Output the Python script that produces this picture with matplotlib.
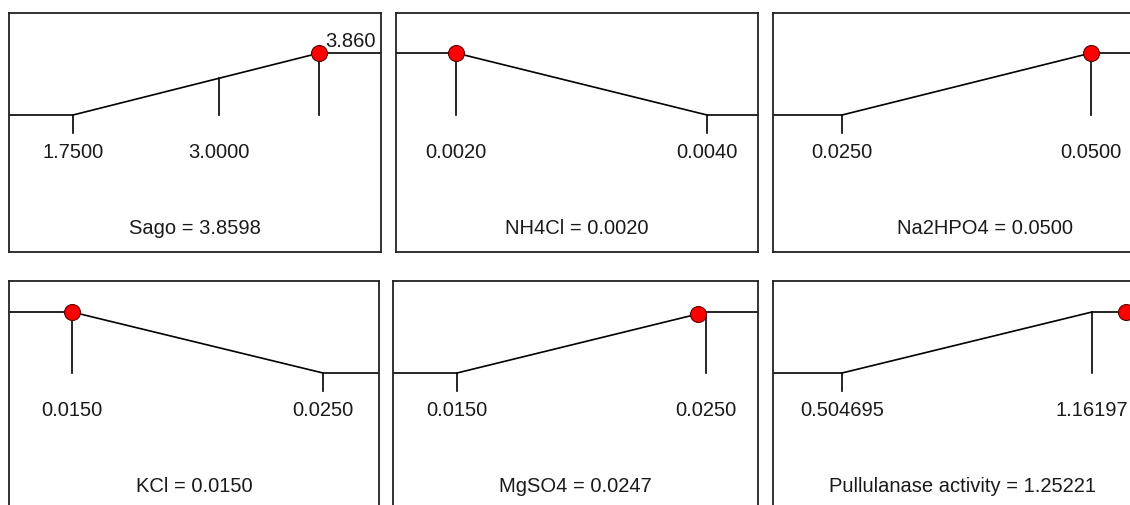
import numpy as np
import matplotlib.pyplot as plt

plt.rcParams['font.family'] = ['Liberation Sans', 'DejaVu Sans']

# factor / response names and the optimum values
names = ["Sago", "NH4Cl", "Na2HPO4", "KCl", "MgSO4", "Pullulanase activity"]
current = [3.8598, 0.0020, 0.0500, 0.0150, 0.0247, 1.25221]
current_text = ["3.8598", "0.0020", "0.0500", "0.0150", "0.0247", "1.25221"]

# ramp ends (low end, high end) and whether desirability rises left->right
ramp_lo = [1.75, 0.002, 0.025, 0.015, 0.015, 0.504695]
ramp_hi = [3.86, 0.004, 0.050, 0.025, 0.025, 1.16197]
rising = [True, False, True, False, True, True]

# ticks drawn under the ramp and their labels
tick_values = [[1.75, 3.0, 3.86], [0.002, 0.004], [0.025, 0.05],
               [0.015, 0.025], [0.015, 0.025], [0.504695, 1.16197]]
tick_labels = [["1.7500", "3.0000", ""], ["0.0020", "0.0040"], ["0.0250", "0.0500"],
               ["0.0150", "0.0250"], ["0.0150", "0.0250"], ["0.504695", "1.16197"]]
top_label = ["3.860", "", "", "", "", ""]

# x limits of each panel (data units)
xlims = [(1.202, 4.387), (0.001522, 0.004406), (0.01807, 0.05542),
         (0.01249, 0.02723), (0.01243, 0.02709), (0.3233, 1.3013)]

# layout in pixels: left, top, right, bottom of each box, and y pixel of levels 1 / 0
W, H = 1130, 505
boxes = [(9, 13, 381, 252), (396, 13, 758, 252), (773, 13, 1145, 252),
         (9, 281, 379, 512), (393, 281, 758, 512), (773, 281, 1145, 512)]
level_px = [(53, 115)] * 3 + [(312, 373)] * 3
label_x = [0.5, 0.5, 0.57, 0.5, 0.5, 0.51]

fig = plt.figure(figsize=(11.3, 5.05), dpi=100)
PT = 72 / 100.0  # points per pixel
fs = 14.5
txt_col = '#1a1a1a'

for i in range(6):
    l, t, r, b = boxes[i]
    ax = fig.add_axes([l / W, 1 - b / H, (r - l) / W, (b - t) / H])
    y1, y0 = level_px[i]
    unit = y0 - y1
    ax.set_ylim(-(b - y0) / unit, 1 + (y1 - t) / unit)
    ax.set_xlim(*xlims[i])
    ax.set_xticks([])
    ax.set_yticks([])
    for s in ax.spines.values():
        s.set_linewidth(1.3)
        s.set_color('#222222')

    xa, xb = xlims[i]
    rx = [xa, ramp_lo[i], ramp_hi[i], xb]
    ry = [0, 0, 1, 1] if rising[i] else [1, 1, 0, 0]
    ax.plot(rx, ry, color='black', lw=1.2, solid_joinstyle='miter')

    for tv, tl in zip(tick_values[i], tick_labels[i]):
        yl = np.interp(tv, rx, ry)
        ybot = 0 if yl > 0.05 else -18 / unit
        ax.plot([tv, tv], [yl, ybot], color='black', lw=1.2)
        if tl:
            ax.annotate(tl, (tv, 0), xytext=(0, -43 * PT), textcoords='offset points',
                        ha='center', va='baseline', fontsize=fs, color=txt_col)

    if top_label[i]:
        ax.annotate(top_label[i], (ramp_hi[i], 1), xytext=(6 * PT, 6 * PT),
                    textcoords='offset points', ha='left', va='baseline',
                    fontsize=fs, color=txt_col)

    my = np.interp(current[i], rx, ry)
    ax.plot([current[i]], [my], 'o', ms=11.5, mfc='#ff0000', mec='#5a0000',
            mew=0.8, zorder=5, clip_on=False)

    ax.annotate(names[i] + " = " + current_text[i], (label_x[i], 0),
                xycoords=('axes fraction', 'data'), xytext=(0, -119 * PT),
                textcoords='offset points', ha='center', va='baseline',
                fontsize=fs, color=txt_col)

fig.savefig('out.png', dpi=100)
